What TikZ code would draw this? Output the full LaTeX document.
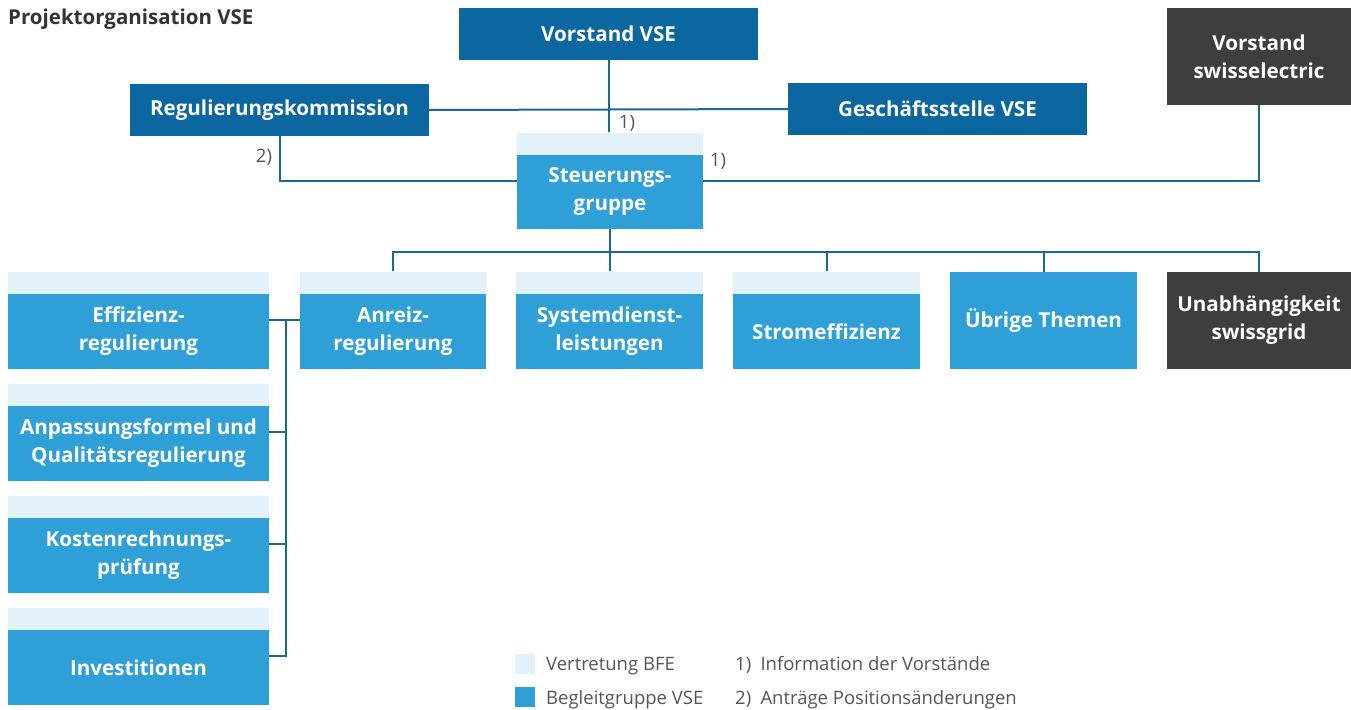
\documentclass[tikz,border=0pt]{standalone}
\usepackage{fontspec}
\setmainfont{Open Sans}
\usetikzlibrary{fit,calc}
\definecolor{vsedark}{HTML}{0C66A0}
\definecolor{vselight}{HTML}{2EA0D7}
\definecolor{bfe}{HTML}{E3F1FA}
\definecolor{swissgrey}{HTML}{3F3E3D}
\definecolor{linecol}{HTML}{1A6898}
\definecolor{notegrey}{HTML}{555555}
\definecolor{titlegrey}{HTML}{333333}
\begin{document}
\begin{tikzpicture}[x=1pt,y=-1pt,
  box/.style={rectangle, inner sep=0pt, align=center, text=white,
    font=\bfseries\fontsize{20.6}{28}\selectfont},
  darkbox/.style={box, fill=vsedark},
  greybox/.style={box, fill=swissgrey},
  lightbox/.style={box, fill=vselight},
  stripe/.style={rectangle, inner sep=0pt, fill=bfe, minimum height=22pt, anchor=south},
  whole/.style={rectangle, inner sep=0pt, fit=#1},
  link/.style={draw=linecol, line width=2pt},
  note/.style={font=\fontsize{18.5}{18.5}\selectfont, text=notegrey, inner sep=0pt, anchor=base west}]

\useasboundingbox (0,0) rectangle (1351,709);

% title
\node[font=\bfseries\fontsize{20.5}{20.5}\selectfont, text=titlegrey, inner sep=0pt, anchor=base west]
  (title) at (8,25) {Projektorganisation VSE};

% top level
\node[darkbox, minimum width=299pt, minimum height=52pt] (vvse) at (608.5,34) {Vorstand VSE};
\node[darkbox, minimum width=299pt, minimum height=52pt] (reg) at (279.5,110) {Regulierungskommission};
\node[darkbox, minimum width=299pt, minimum height=52pt] (ges) at (937.5,109) {Geschäftsstelle VSE};
\node[greybox, minimum width=184pt, minimum height=97pt] (vsw) at (1259,56.5) {Vorstand\\swisselectric};

% steering group
\node[lightbox, minimum width=186pt, minimum height=74pt] (steu) at (610,192) {Steuerungs-\\gruppe};
\node[stripe, minimum width=186pt] (steuB) at (steu.north) {};
\node[whole={(steuB)(steu)}] (steuAll) {};

% project row
\node[lightbox, minimum width=261pt, minimum height=75pt] (eff) at (138.5,331.5) {Effizienz-\\regulierung};
\node[lightbox, minimum width=186pt, minimum height=75pt] (anr) at (393,331.5) {Anreiz-\\regulierung};
\node[lightbox, minimum width=187pt, minimum height=75pt] (sys) at (609.5,331.5) {Systemdienst-\\leistungen};
\node[lightbox, minimum width=187pt, minimum height=75pt] (strom) at (826.5,331.5) {Stromeffizienz};
\node[lightbox, minimum width=187pt, minimum height=97pt] (ueb) at (1043.5,320.5) {Übrige Themen};
\node[greybox, minimum width=184pt, minimum height=97pt] (unab) at (1259,320.5) {Unabhängigkeit\\swissgrid};

% left column
\node[lightbox, minimum width=261pt, minimum height=75pt] (anp) at (138.5,443.5) {Anpassungsformel und\\Qualitätsregulierung};
\node[lightbox, minimum width=261pt, minimum height=75pt] (kost) at (138.5,555.5) {Kostenrechnungs-\\prüfung};
\node[lightbox, minimum width=261pt, minimum height=75pt] (inv) at (138.5,667.5) {Investitionen};

% BFE representation stripes
\node[stripe, minimum width=261pt] (effB) at (eff.north) {};
\node[stripe, minimum width=186pt] (anrB) at (anr.north) {};
\node[stripe, minimum width=187pt] (sysB) at (sys.north) {};
\node[stripe, minimum width=187pt] (stromB) at (strom.north) {};
\node[stripe, minimum width=261pt] (anpB) at (anp.north) {};
\node[stripe, minimum width=261pt] (kostB) at (kost.north) {};
\node[stripe, minimum width=261pt] (invB) at (inv.north) {};
\node[whole={(effB)(eff)}] (effAll) {};
\node[whole={(anrB)(anr)}] (anrAll) {};
\node[whole={(sysB)(sys)}] (sysAll) {};
\node[whole={(stromB)(strom)}] (stromAll) {};
\node[whole={(anpB)(anp)}] (anpAll) {};
\node[whole={(kostB)(kost)}] (kostAll) {};
\node[whole={(invB)(inv)}] (invAll) {};

% connectors
\draw[link] (reg.east) -- (ges.west);
\draw[link] (vvse.south) -- (vvse.south |- steuAll.north);
\draw[link] (reg.south) |- (steuAll.west);
\draw[link] (steuAll.east) -| (vsw.south);
\foreach \c in {anrAll,sysAll,stromAll,ueb,unab}
  \draw[link] (steuAll.south) -- ++(0,23) -| (\c.north);
\draw[link] (effAll.east) -- (anrAll.west);
\draw[link] (invAll.east) -- ++(17,0) |- (effAll.east);
\draw[link] (anpAll.east) -- ++(17,0);
\draw[link] (kostAll.east) -- ++(17,0);

% footnote marks
\node[note, anchor=center] (n1a) at (627,123) {1)};
\node[note, anchor=center] (n1b) at (718,161) {1)};
\node[note, anchor=center] (n2) at (264,157) {2)};

% legend
\node[rectangle, fill=bfe, minimum size=20pt, inner sep=0pt] (lgA) at (525,664) {};
\node[rectangle, fill=vselight, minimum size=20pt, inner sep=0pt] (lgB) at (525,697) {};
\node[note] (lgAt) at (546,670) {Vertretung BFE};
\node[note] (lgBt) at (546,704) {Begleitgruppe VSE};
\node[note] (lg1) at (735,670) {1)\enspace Information der Vorstände};
\node[note] (lg2) at (735,704) {2)\enspace Anträge Positionsänderungen};
\end{tikzpicture}
\end{document}
